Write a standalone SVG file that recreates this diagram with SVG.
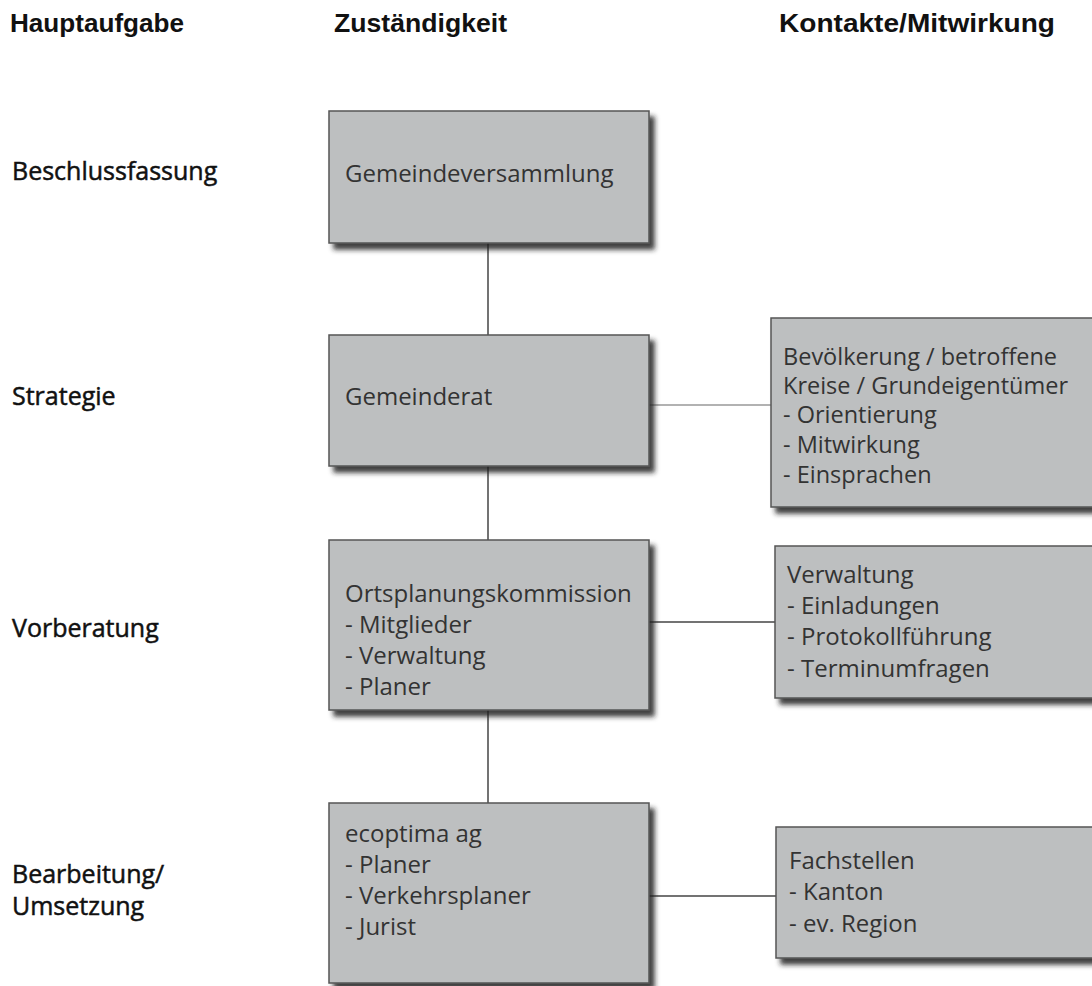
<svg xmlns="http://www.w3.org/2000/svg" width="1092" height="986" viewBox="0 0 1092 986">
<style>
.hdr{font-family:"Liberation Sans",Arial,sans-serif;font-weight:bold;font-size:26px;fill:#111}
.row{font-family:"Open Sans","Liberation Sans",sans-serif;font-size:25px;fill:#111;stroke:#111;stroke-width:0.5}
.box{fill:#bdbfc0;stroke:#555;stroke-width:1.5}
.bt{font-family:"Open Sans","Liberation Sans",sans-serif;font-size:24px;fill:#333}
.bs{font-family:"Open Sans","Liberation Sans",sans-serif;font-size:23.5px;fill:#333}
.con{stroke:#444;stroke-width:1.5;fill:none}
.con2{stroke:#999;stroke-width:1.5;fill:none}
</style>
<defs>
<filter id="sh" x="-5%" y="-5%" width="115%" height="120%">
<feDropShadow dx="5" dy="6" stdDeviation="2.5" flood-color="#222" flood-opacity="0.85"/>
</filter>
</defs>
<rect width="1092" height="986" fill="#fff"/>
<g id="headers">
<text class="hdr" x="10" y="32" textLength="174" lengthAdjust="spacingAndGlyphs">Hauptaufgabe</text>
<text class="hdr" x="334" y="32" textLength="173" lengthAdjust="spacingAndGlyphs">Zuständigkeit</text>
<text class="hdr" x="779" y="32" textLength="276" lengthAdjust="spacingAndGlyphs">Kontakte/Mitwirkung</text>
</g>
<g id="rowlabels">
<text class="row" x="12" y="180">Beschlussfassung</text>
<text class="row" x="12" y="405">Strategie</text>
<text class="row" x="12" y="637">Vorberatung</text>
<text class="row" x="12" y="883">Bearbeitung/</text>
<text class="row" x="12" y="915">Umsetzung</text>
</g>
<g id="connectors">
<line class="con" x1="488" y1="243" x2="488" y2="335"/>
<line class="con" x1="488" y1="466" x2="488" y2="540"/>
<line class="con" x1="488" y1="710" x2="488" y2="803"/>
<line class="con2" x1="649" y1="405" x2="771" y2="405"/>
<line class="con" x1="649" y1="622" x2="775" y2="622"/>
<line class="con" x1="649" y1="896" x2="776" y2="896"/>
</g>
<g id="gemeindeversammlung">
<rect class="box" x="329" y="111" width="320" height="132" filter="url(#sh)"/>
<text class="bt" x="345" y="182">Gemeindeversammlung</text>
</g>
<g id="gemeinderat">
<rect class="box" x="329" y="335" width="320" height="131" filter="url(#sh)"/>
<text class="bt" x="345" y="405">Gemeinderat</text>
</g>
<g id="ortsplanungskommission">
<rect class="box" x="329" y="540" width="320" height="170" filter="url(#sh)"/>
<text class="bt" x="345" y="602">Ortsplanungskommission</text>
<text class="bt" x="345" y="633">- Mitglieder</text>
<text class="bt" x="345" y="664">- Verwaltung</text>
<text class="bt" x="345" y="695">- Planer</text>
</g>
<g id="ecoptima">
<rect class="box" x="329" y="803" width="320" height="180" filter="url(#sh)"/>
<text class="bt" x="345" y="842">ecoptima ag</text>
<text class="bt" x="345" y="873">- Planer</text>
<text class="bt" x="345" y="904">- Verkehrsplaner</text>
<text class="bt" x="345" y="935">- Jurist</text>
</g>
<g id="bevoelkerung">
<rect class="box" x="771" y="318" width="340" height="189" filter="url(#sh)"/>
<text class="bs" x="783" y="365">Bevölkerung / betroffene</text>
<text class="bs" x="783" y="394">Kreise / Grundeigentümer</text>
<text class="bs" x="783" y="423">- Orientierung</text>
<text class="bs" x="783" y="453">- Mitwirkung</text>
<text class="bs" x="783" y="483">- Einsprachen</text>
</g>
<g id="verwaltung">
<rect class="box" x="775" y="546" width="340" height="152" filter="url(#sh)"/>
<text class="bt" x="787" y="583">Verwaltung</text>
<text class="bt" x="787" y="614">- Einladungen</text>
<text class="bt" x="787" y="645">- Protokollführung</text>
<text class="bt" x="787" y="677">- Terminumfragen</text>
</g>
<g id="fachstellen">
<rect class="box" x="776" y="827" width="340" height="131" filter="url(#sh)"/>
<text class="bt" x="789" y="869">Fachstellen</text>
<text class="bt" x="789" y="900">- Kanton</text>
<text class="bt" x="789" y="932">- ev. Region</text>
</g>
</svg>
